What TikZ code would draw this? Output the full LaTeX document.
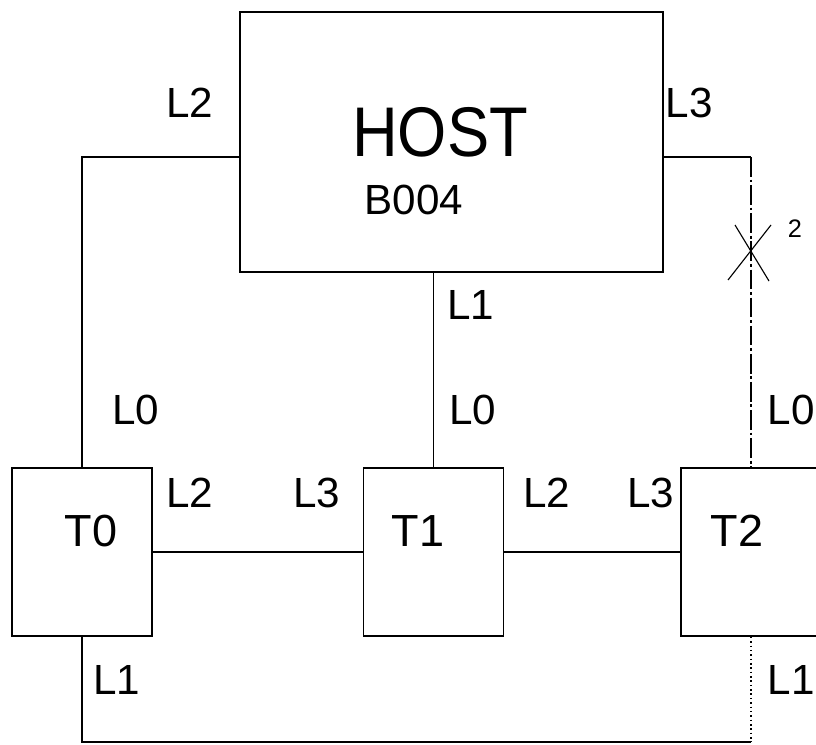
\documentclass[tikz,border=0pt]{standalone}
\usepackage{fontspec}
\setmainfont{Liberation Sans}
\usetikzlibrary{positioning}
\tikzset{
  unitbox/.style={draw, line width=1.1pt, minimum width=3.5cm, minimum height=4.2cm, inner sep=0pt},
  hostbox/.style={draw, line width=1.1pt, minimum width=10.575cm, minimum height=6.5cm, inner sep=0pt},
  link/.style={line width=1.1pt},
  lbl/.style={inner sep=0pt, font=\fontsize{30}{34}\selectfont},
  tname/.style={inner sep=0pt, font=\fontsize{32}{36}\selectfont}
}
\begin{document}
\begin{tikzpicture}[x=0.025cm, y=-0.025cm]
            \clip (0,0) rectangle (816,744);
            \fill[white] (0,0) rectangle (816,744);

            \node[hostbox] (host) at (451.5,142) {};
            \node[unitbox] (t0) at (82,552) {};
            \node[unitbox] (t1) at (433.5,552) {};
            \node[unitbox] (t2) at (751,552) {};

            \node[inner sep=0pt, xscale=0.9, font=\fontsize{50}{56}\selectfont] (hostname) at (440,132) {HOST};
            \node[lbl] (hosttype) at (414,200) {B004};
            \node[tname] (t0name) at (91,531) {T0};
            \node[tname] (t1name) at (418,531) {T1};
            \node[tname] (t2name) at (737,531) {T2};

            \coordinate (HL) at (240,157);
            \coordinate (HR) at (663,157);
            \coordinate (RC) at (751,157);
            \coordinate (BR) at (751,742);
            \coordinate (X) at (751,243);

            \draw[link] (t0.north) |- (HL);
            \draw[link] (HR) -- (RC);
            \draw[link, dash pattern=on 14pt off 2pt on 2pt off 2pt] (RC) -- (t2.north);
            \draw[link] (t1.north) -- (t1.north |- host.south);
            \draw[link] (t0.east) -- (t1.west);
            \draw[link] (t1.east) -- (t2.west);
            \draw[link] (t0.south) |- (BR);
            \draw[link, dotted] (t2.south) -- (BR);

            \draw[line width=0.8pt] ([shift={(-16,-18)}]X) -- ([shift={(18,38)}]X);
            \draw[line width=0.8pt] ([shift={(20,-18)}]X) -- ([shift={(-23,37)}]X);
            \node[inner sep=0pt, font=\fontsize{18}{20}\selectfont] (cut) at (795,229) {2};

            \node[lbl] (hl2) at (190,103) {L2};
            \node[lbl] (hl3) at (689,103) {L3};
            \node[lbl] (hl1) at (471,305) {L1};
            \node[lbl] (a0) at (136,410) {L0};
            \node[lbl] (b0) at (473,410) {L0};
            \node[lbl] (c0) at (791,410) {L0};
            \node[lbl] (a2) at (190,493) {L2};
            \node[lbl] (b3) at (317,493) {L3};
            \node[lbl] (b2) at (547,493) {L2};
            \node[lbl] (c3) at (651,493) {L3};
            \node[lbl] (a1) at (117,680) {L1};
            \node[lbl] (c1) at (791,680) {L1};
        \end{tikzpicture}
\end{document}
